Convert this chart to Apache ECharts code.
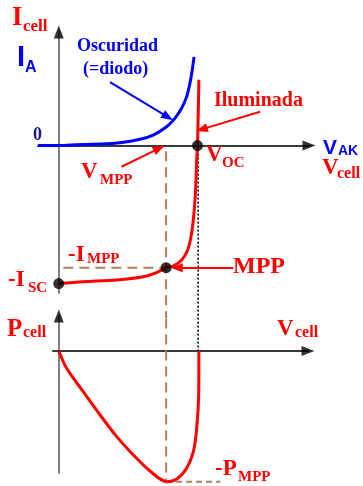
<!DOCTYPE html>
<html>
<head>
<meta charset="utf-8">
<script src="https://cdn.jsdelivr.net/npm/echarts@6/dist/echarts.min.js"></script>
<style>
  html, body { margin: 0; padding: 0; background: #fff; }
  #chart { width: 363px; height: 486px; }
</style>
</head>
<body>
<div id="chart"></div>
<script>
// Dark characteristic of the cell (behaves as a diode): V_AK vs I_A
const darkV = [-0.09, 0.03, 0.18, 0.265, 0.352, 0.409, 0.467, 0.503, 0.532, 0.554, 0.568, 0.578, 0.586];
const darkI = [0.0, 0.01, 0.035, 0.063, 0.137, 0.23, 0.411, 0.593, 0.811, 1.065, 1.35, 1.64, 1.93];

// Illuminated characteristic: V_cell vs I_cell
const lightV = [0, 0.106, 0.251, 0.366, 0.424, 0.465, 0.496, 0.5325, 0.5585, 0.5728, 0.5828, 0.59, 0.5945, 0.5975, 0.601, 0.6044, 0.607];
const lightI = [-3.0, -2.96, -2.92, -2.85, -2.76, -2.654, -2.617, -2.487, -2.27, -1.98, -1.617, -1.183, -0.748, -0.313, 0, 0.774, 1.43];

// Power curve: V_cell vs P_cell
const powerV = [0, 0.034, 0.106, 0.179, 0.251, 0.323, 0.395, 0.4675, 0.511, 0.554, 0.583, 0.5975, 0.606, 0.607];
const powerP = [0, -0.16, -0.376, -0.591, -0.791, -0.96, -1.108, -1.207, -1.182, -1.083, -0.93, -0.714, -0.406, 0];

// Characteristic points
const Voc = 0.601;
const Isc = 3.0;
const Vmpp = 0.465;
const Impp = 2.654;
const Pmpp = 1.207;

// Axis ranges of the two panels
const ivX = [-0.09, 1.084];
const ivY = [-3.204, 2.47];
const pvX = [-0.0251, 1.0797];
const pvY = [-1.1265, 0.323];

const RED = '#ff0000';
const BLUE = '#0000ff';
const BROWN = '#b08058';
const SERIF = '"Liberation Serif", "Times New Roman", serif';
const SANS = '"Liberation Sans", Arial, sans-serif';

const zip = (xs, ys) => xs.map((x, i) => [x, ys[i]]);

function axis(gridIndex, range, color) {
  return {
    type: 'value', gridIndex, min: range[0], max: range[1],
    axisLine: { show: true, onZero: true, lineStyle: { color, width: 2 } },
    axisTick: { show: false }, axisLabel: { show: false }, splitLine: { show: false }
  };
}

// black arrowheads at the ends of the axes
function axisHeads(idx, xRange, yRange) {
  return {
    type: 'scatter', xAxisIndex: idx, yAxisIndex: idx, clip: false, silent: true, z: 4,
    symbol: 'triangle', symbolSize: [10, 13], itemStyle: { color: '#000' },
    data: [
      { value: [xRange[1], 0], symbolRotate: -90 },
      { value: [0, yRange[1]], symbolRotate: 0 }
    ]
  };
}

function arrows(color, pairs) {
  return {
    silent: true,
    symbol: ['none', 'triangle'],
    symbolSize: [9, 12],
    label: { show: false },
    lineStyle: { color, width: 2, type: 'solid' },
    emphasis: { disabled: true },
    data: pairs.map(p => [{ coord: p[0] }, { coord: p[1] }])
  };
}

function guide(xAxisIndex, points, color, width, dash) {
  return {
    type: 'line', xAxisIndex, yAxisIndex: xAxisIndex, clip: false, silent: true,
    symbol: 'none', z: 3, lineStyle: { color, width, type: dash }, data: points
  };
}

function curve(xAxisIndex, data, color, extra) {
  return Object.assign({
    type: 'line', xAxisIndex, yAxisIndex: xAxisIndex, clip: false, silent: true,
    symbol: 'none', z: 5, smooth: 0.3, lineStyle: { color, width: 3 }, data
  }, extra || {});
}

function txt(x, y, text, size, color, family) {
  return {
    type: 'text', x, y, z: 100,
    style: { text, fontSize: size, fontWeight: 'bold', fontFamily: family || SERIF,
             fill: color, align: 'left', verticalAlign: 'middle' }
  };
}

const labels = [
  txt(12, 18, 'I', 27, RED), txt(23, 27, 'cell', 17, RED),
  txt(17, 58, 'I', 29, BLUE, SANS), txt(25, 68, 'A', 16, BLUE, SANS),
  txt(77, 46, 'Oscuridad', 18, BLUE),
  txt(83, 69, '(=diodo)', 18, BLUE),
  txt(214, 101, 'Iluminada', 20, RED),
  txt(33, 135, '0', 18, '#1a1a80'),
  txt(323, 148, 'V', 21, BLUE, SANS), txt(338, 151, 'AK', 14, BLUE, SANS),
  txt(322, 168, 'V', 23, RED), txt(337, 174, 'cell', 16, RED),
  txt(206, 155, 'V', 23, RED), txt(222, 163, 'OC', 15, RED),
  txt(81, 172, 'V', 23, RED), txt(100, 180, 'MPP', 15, RED),
  txt(68, 255, '-I', 23, RED), txt(87, 259, 'MPP', 15, RED),
  txt(8, 280, '-I', 23, RED), txt(28, 288, 'SC', 15, RED),
  txt(233, 267, 'MPP', 24, RED),
  txt(7, 330, 'P', 25, RED), txt(23, 333, 'cell', 16, RED),
  txt(277, 329, 'V', 23, RED), txt(295, 333, 'cell', 16, RED),
  txt(215, 469, '-P', 23, RED), txt(238, 477, 'MPP', 15, RED)
];

const chart = echarts.init(document.getElementById('chart'), null, { renderer: 'canvas' });

chart.setOption({
  backgroundColor: '#ffffff',
  animation: false,
  grid: [
    { left: 38, top: 32, width: 271, height: 261, containLabel: false, outerBoundsMode: 'none' },
    { left: 53, top: 316, width: 255, height: 157, containLabel: false, outerBoundsMode: 'none' }
  ],
  xAxis: [axis(0, ivX, '#3a3a3a'), axis(1, pvX, '#3a3a3a')],
  yAxis: [axis(0, ivY, '#808080'), axis(1, pvY, '#808080')],
  graphic: labels,
  series: [
    axisHeads(0, ivX, ivY),
    axisHeads(1, pvX, pvY),
    // vertical guide at V_MPP through both panels
    guide(0, [[Vmpp, -0.12], [Vmpp, -3.75]], BROWN, 2, [10, 6]),
    guide(1, [[Vmpp, 0.3], [Vmpp, -Pmpp]], BROWN, 2, [10, 6]),
    // horizontal guides at -I_MPP and -P_MPP
    guide(0, [[0.02, -Impp], [Vmpp, -Impp]], BROWN, 2, [10, 6]),
    guide(1, [[Vmpp, -Pmpp], [0.7, -Pmpp]], BROWN, 2, [6, 4]),
    // dotted guide at V_OC down to the power axis
    guide(0, [[Voc + 0.003, 0], [Voc + 0.003, -4.465]], '#000', 1.5, [2, 2]),
    // dark curve
    curve(0, zip(darkV, darkI), BLUE, {
      markLine: arrows(BLUE, [[[0.222, 1.38], [0.473, 0.62]]])
    }),
    // illuminated curve
    curve(0, zip(lightV, lightI), RED, {
      markLine: arrows(RED, [
        [[0.872, 0.737], [0.619, 0.354]],
        [[0.272, -0.459], [0.435, -0.059]],
        [[0.756, -2.654], [0.511, -2.654]]
      ])
    }),
    // power curve
    curve(1, zip(powerV, powerP), RED),
    // -I_SC, MPP and V_OC points
    { type: 'scatter', xAxisIndex: 0, yAxisIndex: 0, silent: true, z: 8,
      symbolSize: 11, itemStyle: { color: '#000' },
      data: [[0, -Isc], [Vmpp, -Impp], [Voc, 0]] }
  ]
});
</script>
</body>
</html>
